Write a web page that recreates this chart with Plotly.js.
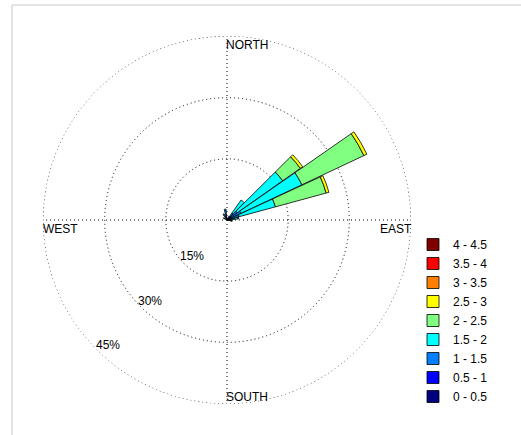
<!DOCTYPE html>
<html>
<head>
<meta charset="utf-8">
<script src="https://cdn.plot.ly/plotly-3.0.1.min.js"></script>
<style>html,body{margin:0;padding:0;background:#fff;}#chart{width:521px;height:435px;}</style>
</head>
<body>
<div id="chart"></div>
<script>
// Directions (degrees, compass) of the petals that hold data
const directions = [30, 40, 50, 60, 70, 80, 100, 300, 330, 350];
// Wind-speed classes
const speedBins = ["0 - 0.5", "0.5 - 1", "1 - 1.5", "1.5 - 2", "2 - 2.5", "2.5 - 3", "3 - 3.5", "3.5 - 4", "4 - 4.5"];
const binColors = ["#000080", "#0000FF", "#0080FF", "#00FFFF", "#80FF80", "#FFFF00", "#FF8000", "#FF0000", "#800000"];
// Frequency (%) per speed class, per direction
const f_0_05   = [0.3, 0.3, 0.3, 0.3, 0.3, 0.3, 0.2, 0.3, 0.3, 0.4];
const f_05_1   = [0.4, 0.6, 0.8, 1.0, 0.8, 0.6, 0.4, 0.5, 0.6, 0.8];
const f_1_15   = [0.3, 1.2, 2.0, 2.5, 2.0, 1.0, 0.4, 0.2, 0.6, 1.2];
const f_15_2   = [0.0, 3.9, 13.6, 16.5, 9.2, 0.8, 0.2, 0.0, 0.2, 0.3];
const f_2_25   = [0.0, 0.0, 5.3, 16.8, 12.9, 0.2, 0.1, 0.0, 0.0, 0.0];
const f_25_3   = [0.0, 0.0, 0.7, 0.8, 0.7, 0.0, 0.0, 0.0, 0.0, 0.0];
const f_3_35   = [0, 0, 0, 0, 0, 0, 0, 0, 0, 0];
const f_35_4   = [0, 0, 0, 0, 0, 0, 0, 0, 0, 0];
const f_4_45   = [0, 0, 0, 0, 0, 0, 0, 0, 0, 0];
const series = [f_0_05, f_05_1, f_1_15, f_15_2, f_2_25, f_25_3, f_3_35, f_35_4, f_4_45];
// Radial rings and compass labels
const ringValues = [15, 30, 45];
const compassLabels = ["NORTH", "EAST", "SOUTH", "WEST"];

const W = 521, H = 435;
const cx = 227, cy = 220, R = 183.5;
const rMax = 45;

const traces = series.map((vals, i) => ({
  type: "barpolar",
  r: vals,
  theta: directions,
  width: directions.map(() => 9.6),
  name: speedBins[i],
  marker: {color: binColors[i], line: {color: "#000", width: 0.8}},
  hoverinfo: "skip"
}));

const px = x => x / W;
const py = y => 1 - y / H;
const font = {family: "Liberation Sans, Arial, sans-serif", size: 12, color: "#000"};
const dotted = "1px,3px";

const annotations = [];
// compass labels inside the outer ring
annotations.push({text: compassLabels[0], x: px(cx - 3), y: py(cy - R + 9), xanchor: "left", yanchor: "middle"});
annotations.push({text: compassLabels[1], x: px(cx + R + 3), y: py(cy + 9), xanchor: "right", yanchor: "middle"});
annotations.push({text: compassLabels[2], x: px(cx - 3), y: py(cy + R - 7), xanchor: "left", yanchor: "middle"});
annotations.push({text: compassLabels[3], x: px(cx - R - 3), y: py(cy + 9), xanchor: "left", yanchor: "middle"});
// ring labels along the south-west direction
const a = 226.5 * Math.PI / 180;
ringValues.forEach(v => {
  const rr = v / rMax * R - 11;
  annotations.push({text: v + "%", x: px(cx + rr * Math.cos(a)), y: py(cy - rr * Math.sin(a)), xanchor: "center", yanchor: "middle"});
});
annotations.forEach(an => { an.xref = "paper"; an.yref = "paper"; an.showarrow = false; an.font = font; });

const layout = {
  width: W, height: H,
  margin: {l: 0, r: 0, t: 0, b: 0},
  paper_bgcolor: "#fff",
  font: font,
  showlegend: true,
  legend: {x: px(413), y: py(230), xanchor: "left", yanchor: "top", traceorder: "reversed",
           font: font, bgcolor: "rgba(0,0,0,0)", itemclick: false},
  polar: {
    domain: {x: [px(cx - R), px(cx + R)], y: [py(cy + R), py(cy - R)]},
    bgcolor: "#fff",
    barmode: "stack",
    radialaxis: {range: [0, rMax], tickvals: ringValues, showticklabels: false, ticks: "",
                 showline: false, showgrid: true, gridcolor: "#000", gridwidth: 1, griddash: dotted},
    angularaxis: {rotation: 90, direction: "clockwise", tickvals: [0, 90, 180, 270],
                  showticklabels: false, ticks: "", showline: false,
                  showgrid: true, gridcolor: "#000", gridwidth: 1, griddash: dotted}
  },
  shapes: [
    {type: "line", xref: "paper", yref: "paper", x0: px(12), x1: px(521), y0: py(5), y1: py(5), line: {color: "#c8c8c8", width: 1}},
    {type: "line", xref: "paper", yref: "paper", x0: px(12), x1: px(12), y0: py(5), y1: py(435), line: {color: "#c8c8c8", width: 1}},
    // outer ring (the grid circle at the edge of the radial range)
    {type: "circle", xref: "paper", yref: "paper", x0: px(cx - R), x1: px(cx + R), y0: py(cy + R), y1: py(cy - R),
     line: {color: "#000", width: 1, dash: dotted}, layer: "below"}
  ],
  annotations: annotations
};

Plotly.newPlot("chart", traces, layout, {displayModeBar: false, staticPlot: true});
</script>
</body>
</html>
